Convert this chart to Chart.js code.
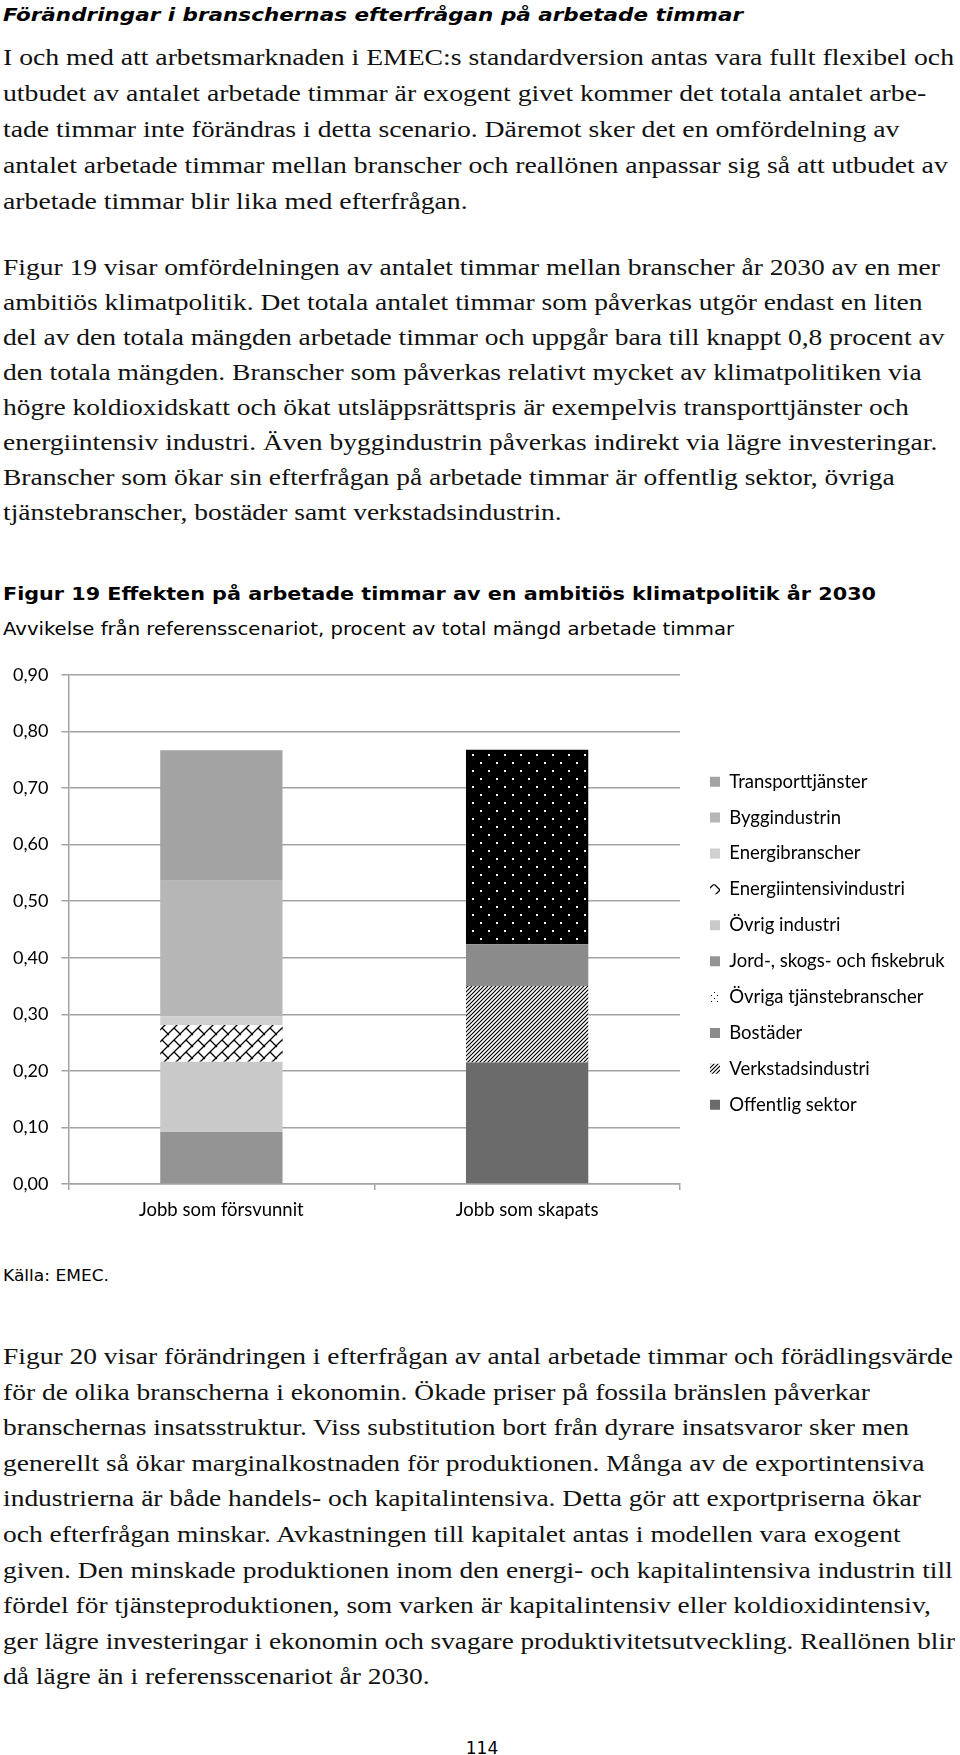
<!DOCTYPE html>
<html lang="sv">
<head>
<meta charset="utf-8">
<title>Figur 19 Effekten på arbetade timmar</title>
<script src="https://cdn.jsdelivr.net/npm/chart.js@4/dist/chart.umd.min.js"></script>
<style>
    html, body { margin: 0; padding: 0; background: #fff; }
    #page { position: relative; width: 960px; height: 1755px; overflow: hidden; color: #000; }
    .fit { position: absolute; left: 3px; white-space: nowrap; }
    .fit div { white-space: nowrap; transform-origin: 0 0; }
    .sans { font-family: 'DejaVu Sans', Verdana, sans-serif; }
    .body { font-family: 'Liberation Serif', 'Times New Roman', serif; font-size: 23px; color: #111; }
    #fig19 { position: absolute; left: 0; top: 650px; }
</style>
</head>
<body>
<div id="page">
    <div class="fit sans" data-w="740" style="top:3px; font-size:18px; line-height:24px; font-weight:bold; font-style:italic;"><div><span>Förändringar i branschernas efterfrågan på arbetade timmar</span></div></div>

    <div class="fit body" data-w="951" style="top:40px; line-height:36px;">
        <div><span>I och med att arbetsmarknaden i EMEC:s standardversion antas vara fullt flexibel och</span></div>
        <div><span>utbudet av antalet arbetade timmar är exogent givet kommer det totala antalet arbe-</span></div>
        <div><span>tade timmar inte förändras i detta scenario. Däremot sker det en omfördelning av</span></div>
        <div><span>antalet arbetade timmar mellan branscher och reallönen anpassar sig så att utbudet av</span></div>
        <div><span>arbetade timmar blir lika med efterfrågan.</span></div>
    </div>

    <div class="fit body" data-w="937" style="top:249.7px; line-height:35px;">
        <div><span>Figur 19 visar omfördelningen av antalet timmar mellan branscher år 2030 av en mer</span></div>
        <div><span>ambitiös klimatpolitik. Det totala antalet timmar som påverkas utgör endast en liten</span></div>
        <div><span>del av den totala mängden arbetade timmar och uppgår bara till knappt 0,8 procent av</span></div>
        <div><span>den totala mängden. Branscher som påverkas relativt mycket av klimatpolitiken via</span></div>
        <div><span>högre koldioxidskatt och ökat utsläppsrättspris är exempelvis transporttjänster och</span></div>
        <div><span>energiintensiv industri. Även byggindustrin påverkas indirekt via lägre investeringar.</span></div>
        <div><span>Branscher som ökar sin efterfrågan på arbetade timmar är offentlig sektor, övriga</span></div>
        <div><span>tjänstebranscher, bostäder samt verkstadsindustrin.</span></div>
    </div>

    <div class="fit sans" data-w="873" style="top:582px; font-size:18px; line-height:24px; font-weight:bold;"><div><span>Figur 19 Effekten på arbetade timmar av en ambitiös klimatpolitik år 2030</span></div></div>
    <div class="fit sans" data-w="731" style="top:617px; font-size:17px; line-height:24px;"><div><span>Avvikelse från referensscenariot, procent av total mängd arbetade timmar</span></div></div>

    <canvas id="fig19" width="960" height="580"></canvas>

    <div class="fit sans" data-w="106" style="top:1265px; font-size:16px; line-height:22px;"><div><span>Källa: EMEC.</span></div></div>

    <div class="fit body" data-w="950" style="top:1339px; line-height:35.6px;">
        <div><span>Figur 20 visar förändringen i efterfrågan av antal arbetade timmar och förädlingsvärde</span></div>
        <div><span>för de olika branscherna i ekonomin. Ökade priser på fossila bränslen påverkar</span></div>
        <div><span>branschernas insatsstruktur. Viss substitution bort från dyrare insatsvaror sker men</span></div>
        <div><span>generellt så ökar marginalkostnaden för produktionen. Många av de exportintensiva</span></div>
        <div><span>industrierna är både handels- och kapitalintensiva. Detta gör att exportpriserna ökar</span></div>
        <div><span>och efterfrågan minskar. Avkastningen till kapitalet antas i modellen vara exogent</span></div>
        <div><span>given. Den minskade produktionen inom den energi- och kapitalintensiva industrin till</span></div>
        <div><span>fördel för tjänsteproduktionen, som varken är kapitalintensiv eller koldioxidintensiv,</span></div>
        <div><span>ger lägre investeringar i ekonomin och svagare produktivitetsutveckling. Reallönen blir</span></div>
        <div><span>då lägre än i referensscenariot år 2030.</span></div>
    </div>

    <div class="sans" style="position:absolute; left:462px; width:40px; text-align:center; top:1736px; font-size:17px; line-height:24px;">114</div>
</div>

<script>
// Chart data
const categories = ['Jobb som försvunnit', 'Jobb som skapats'];
// series from the bottom of the stack upwards
const sectors = [
    'Offentlig sektor', 'Verkstadsindustri', 'Bostäder', 'Övriga tjänstebranscher',
    'Jord-, skogs- och fiskebruk', 'Övrig industri', 'Energiintensivindustri',
    'Energibranscher', 'Byggindustrin', 'Transporttjänster'
];
const jobsLost = [0, 0, 0, 0, 0.092, 0.124, 0.065, 0.015, 0.240, 0.231];
const jobsCreated = [0.215, 0.135, 0.074, 0.344, 0, 0, 0, 0, 0, 0];
const yTickLabels = ['0,00', '0,10', '0,20', '0,30', '0,40', '0,50', '0,60', '0,70', '0,80', '0,90'];

// Stretch text lines to the widths of the printed page, never past the right margin
document.querySelectorAll('.fit').forEach(block => {
    const lines = block.querySelectorAll(':scope > div');
    const first = lines[0].querySelector('span').getBoundingClientRect().width;
    const scale = parseFloat(block.dataset.w) / first;
    lines.forEach(line => {
        const w = line.querySelector('span').getBoundingClientRect().width;
        const s = Math.min(scale, 952 / w);
        line.style.transform = 'scaleX(' + s + ')';
    });
});

function makePattern(size, draw) {
    const c = document.createElement('canvas');
    c.width = size;
    c.height = size;
    const g = c.getContext('2d');
    draw(g, size);
    return g.createPattern(c, 'repeat');
}

// diagonal brick, black on white
const brick = makePattern(12, (g, s) => {
    g.fillStyle = '#fff';
    g.fillRect(0, 0, s, s);
    g.strokeStyle = '#000';
    g.lineWidth = 1.3;
    g.beginPath();
    g.moveTo(-2, s + 2); g.lineTo(s + 2, -2);
    g.moveTo(s / 2, s / 2); g.lineTo(s + 1, s + 1);
    g.moveTo(-1, -1); g.lineTo(1, 1);
    g.stroke();
});

// white dots on black
const dots = makePattern(16, (g, s) => {
    g.fillStyle = '#000';
    g.fillRect(0, 0, s, s);
    g.fillStyle = '#fff';
    g.fillRect(0, 0, 2, 2);
    g.fillRect(8, 8, 2, 2);
});

// black dots on white, for the legend swatch
const dotsLegend = makePattern(6, (g, s) => {
    g.fillStyle = '#fff';
    g.fillRect(0, 0, s, s);
    g.fillStyle = '#000';
    g.fillRect(0, 0, 1, 1);
    g.fillRect(3, 3, 1, 1);
});

// dense upward diagonal
const hatch = makePattern(4, (g, s) => {
    g.fillStyle = '#fff';
    g.fillRect(0, 0, s, s);
    g.strokeStyle = '#000';
    g.lineWidth = 1.2;
    g.beginPath();
    g.moveTo(-1, s + 1); g.lineTo(s + 1, -1);
    g.moveTo(-1, 1); g.lineTo(1, -1);
    g.moveTo(s - 1, s + 1); g.lineTo(s + 1, s - 1);
    g.stroke();
});

const fills = ['#6b6b6b', hatch, '#8b8b8b', dots, '#949494', '#c9c9c9', brick, '#d0d0d0', '#b6b6b6', '#a3a3a3'];
const legendFills = { 3: dotsLegend };

const tickFont = { family: 'Lato', size: 18 };
const labelFont = { family: 'Lato', size: 18.5 };
const gridColor = '#a3a3a3';

// Move the legend to where it sits in the print (its drawing is clipped to its box)
const legendShift = {
    id: 'legendShift',
    afterLayout(chart) {
        const lg = chart.legend;
        const area = chart.chartArea;
        lg.left = area.right + 12.6;
        lg.top = area.top + 80;
        lg.right = chart.width;
        lg.bottom = chart.height;
    }
};

const chart = new Chart(document.getElementById('fig19'), {
    type: 'bar',
    data: {
        labels: categories,
        datasets: sectors.map((name, i) => ({
            label: name,
            data: [jobsLost[i], jobsCreated[i]],
            backgroundColor: fills[i],
            borderWidth: 0,
            barPercentage: 0.4,
            categoryPercentage: 1
        }))
    },
    options: {
        responsive: false,
        animation: false,
        events: [],
        layout: { padding: { top: 25, right: 0, bottom: 0, left: 0 } },
        scales: {
            x: {
                stacked: true,
                grid: { drawOnChartArea: false, offset: true, tickLength: 6, color: gridColor, lineWidth: 1.5 },
                border: { color: gridColor, width: 1.5 },
                ticks: { color: '#000', font: labelFont, padding: 9 },
                afterFit: scale => { scale.height = 46; }
            },
            y: {
                stacked: true,
                min: 0,
                max: 0.9,
                ticks: {
                    stepSize: 0.1,
                    color: '#000',
                    font: tickFont,
                    padding: 13,
                    callback: (value, index) => yTickLabels[index]
                },
                grid: { color: gridColor, lineWidth: 1.5, tickLength: 7 },
                border: { color: gridColor, width: 1.5 },
                afterFit: scale => { scale.width = 68.5; }
            }
        },
        plugins: {
            tooltip: { enabled: false },
            legend: {
                position: 'right',
                align: 'start',
                reverse: true,
                maxWidth: 280,
                labels: {
                    boxWidth: 10,
                    boxHeight: 10,
                    padding: 17.4,
                    color: '#000',
                    font: labelFont,
                    generateLabels(c) {
                        const items = Chart.defaults.plugins.legend.labels.generateLabels(c);
                        items.forEach(item => {
                            if (legendFills[item.datasetIndex]) {
                                item.fillStyle = legendFills[item.datasetIndex];
                            }
                        });
                        return items;
                    }
                }
            }
        }
    },
    plugins: [legendShift]
});

// Second pass: keep the plot area ending where the printed one does
chart.options.layout.padding = { top: 25, right: Math.max(0, 960 - 680 - chart.legend.width), bottom: 0, left: 0 };
chart.update();
</script>
</body>
</html>
